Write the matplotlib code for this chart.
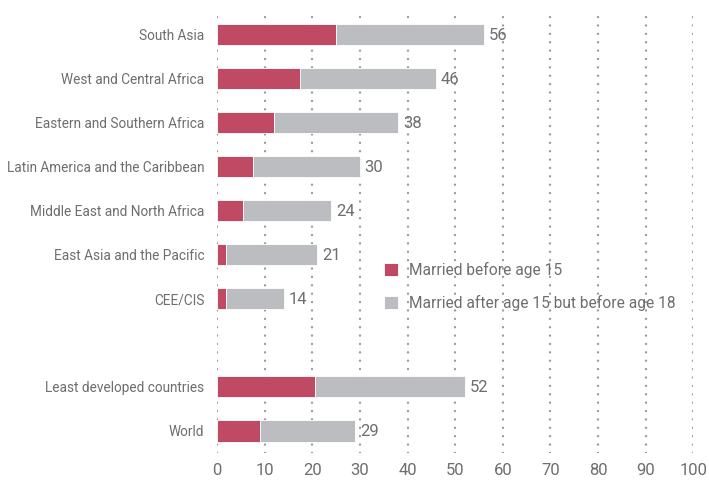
import numpy as np
import matplotlib.pyplot as plt
from matplotlib import rcParams

rcParams['font.family'] = ['Roboto', 'DejaVu Sans']

##################################################################
# Data
##################################################################
regions = ['South Asia', 'West and Central Africa', 'Eastern and Southern Africa',
           'Latin America and the Caribbean', 'Middle East and North Africa',
           'East Asia and the Pacific', 'CEE/CIS',
           'Least developed countries', 'World']
before_15 = [25, 17.4, 12, 7.5, 5.4, 1.8, 1.8, 20.5, 9]
total_18 = [56, 46, 38, 30, 24, 21, 14, 52, 29]
positions = [0, 1, 2, 3, 4, 5, 6, 8, 9]   # blank slot between CEE/CIS and LDC

after_15 = np.array(total_18) - np.array(before_15)

red = '#c04a63'
grey = '#bcbdc0'
txt = '#6d6e71'

##################################################################
# Plot figure
##################################################################
fig = plt.figure(figsize=(7.09, 4.84), dpi=100)
ax = fig.add_axes([0.306, 0.064, 0.672, 0.911])

for x in range(0, 101, 10):
    ax.axvline(x, color='#9a9a9c', lw=1.7, linestyle=(0, (0.05, 3.5)),
               dash_capstyle='round', zorder=0)

ax.barh(positions, before_15, height=0.48, color=red, edgecolor='white',
        lw=0.6, label='Married before age 15', zorder=2)
ax.barh(positions, after_15, left=before_15, height=0.48, color=grey,
        edgecolor='white', lw=0.6,
        label='Married after age 15 but before age 18', zorder=2)

for p, t in zip(positions, total_18):
    ax.text(t + 1.0, p + 0.02, str(t), va='center', ha='left',
            fontsize=12, color=txt)

ax.set_xlim(0, 100)
ax.set_ylim(9.5, -0.5)
ax.set_xticks(range(0, 101, 10))
ax.set_yticks(positions)
ax.set_yticklabels(regions)
ax.tick_params(axis='x', length=0, labelsize=12, colors=txt, pad=7)
ax.tick_params(axis='y', length=0, labelsize=9.8, colors=txt, pad=9)
for s in ax.spines.values():
    s.set_visible(False)

ax.legend(loc='upper left', bbox_to_anchor=(0.337, 0.447), frameon=False,
          fontsize=11.2, labelcolor=txt, handlelength=0.9, handleheight=0.9,
          handletextpad=0.7, labelspacing=1.05, borderaxespad=0)

fig.savefig('out.png', dpi=100)
